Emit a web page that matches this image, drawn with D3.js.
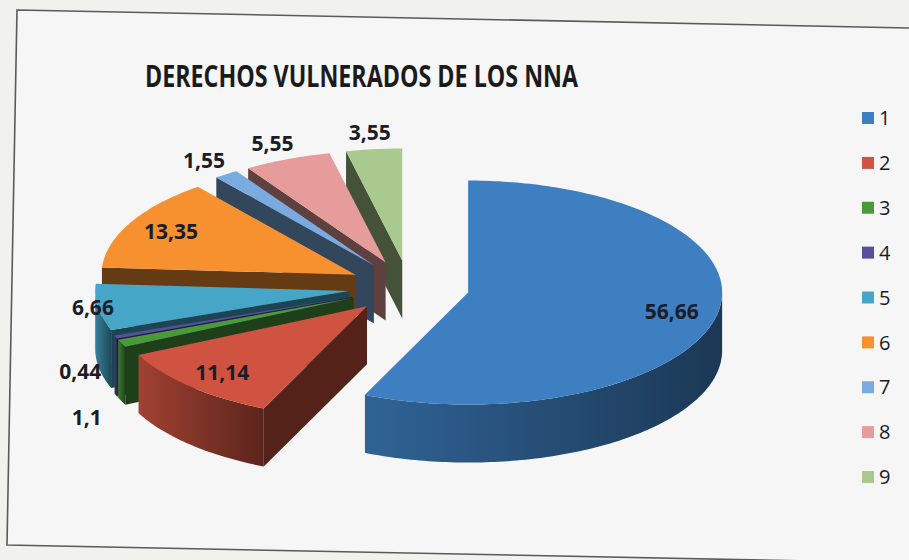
<!DOCTYPE html>
<html>
<head>
<meta charset="utf-8">
<script src="https://cdn.jsdelivr.net/npm/d3@7"></script>
<style>
  body { margin: 0; background: #f1f1f0; }
  svg { display: block; }
</style>
</head>
<body>
<svg id="chart" width="909" height="560"></svg>
<script>
// chart data
const title = "DERECHOS VULNERADOS DE LOS NNA";
const categories = ["1", "2", "3", "4", "5", "6", "7", "8", "9"];
const values = [56.66, 11.14, 1.1, 0.44, 6.66, 13.35, 1.55, 5.55, 3.55];
const colors = ["#3d7fc1", "#cf5340", "#4a9a3c", "#55509a", "#45a6c8",
                "#f7902f", "#7aaae0", "#e59c9a", "#a9c98e"];

/**
 * layout of the 3d pie
 */
const pie3d = {
    cx: 409, cy: 287,   // centre of the (un-exploded) top face
    rx: 254, ry: 112,   // radii of the top ellipse
    depth: 58,          // thickness of the slab
    explode: 0.238,     // offset of every slice, as a fraction of the radius
    step: Math.PI / 180
};

// decimal comma, as in the original
const fmt = d3.formatLocale({decimal: ",", thousands: ".", grouping: [3], currency: ["", ""]})
    .format("~g");

const svg = d3.select("#chart");
const W = +svg.attr("width"), H = +svg.attr("height");

// paper background and the (slightly skewed) chart frame
svg.append("rect").attr("width", W).attr("height", H).attr("fill", "#f1f1f0");
svg.append("path")
    .attr("d", "M17,10 L909,28 L909,563 L7,545 Z")
    .attr("fill", "#f6f6f7");
svg.append("path")
    .attr("d", "M909,28 L17,10 L7,545 L909,563")
    .attr("fill", "none")
    .attr("stroke", "#5a5a5a")
    .attr("stroke-width", 1.6);

svg.append("text")
    .attr("x", 145).attr("y", 87)
    .attr("textLength", 433)
    .attr("lengthAdjust", "spacingAndGlyphs")
    .attr("font-family", "'Open Sans', 'Liberation Sans', sans-serif")
    .attr("font-weight", 700)
    .attr("font-size", 31)
    .attr("fill", "#1b1b1b")
    .text(title);

const data = categories.map((c, i) => ({name: c, value: values[i], color: colors[i]}));
const arcs = d3.pie().sort(null).value(d => d.value)(data);

// point on the ellipse of radius factor k, around (ox, oy)
function pt(ox, oy, a, k = 1){
    return [ox + k * pie3d.rx * Math.sin(a), oy - k * pie3d.ry * Math.cos(a)];
}
function rimPoints(ox, oy, a0, a1){
    let pts = [];
    const n = Math.max(2, Math.ceil((a1 - a0) / pie3d.step));
    for(let i = 0; i <= n; i++){
        pts.push(pt(ox, oy, a0 + (a1 - a0) * i / n));
    }
    return pts;
}
const line = d3.line();
const defs = svg.append("defs");

// centre of each exploded slice
arcs.forEach(function(d, i){
    d.mid = (d.startAngle + d.endAngle) / 2;
    const off = pt(0, 0, d.mid, pie3d.explode);
    d.ox = pie3d.cx + off[0];
    d.oy = pie3d.cy + off[1];
    d.index = i;
});

// back slices first
const order = arcs.slice().sort((a, b) => a.oy - b.oy);
const pieGroup = svg.append("g").attr("id", "pieGroup");

order.forEach(function(d){
    const g = pieGroup.append("g");
    const base = d3.color(d.data.color);
    const h = pie3d.depth;
    const gradId = "wall" + d.index;
    const grad = defs.append("linearGradient").attr("id", gradId)
        .attr("x1", 0).attr("x2", 1).attr("y1", 0).attr("y2", 0);
    grad.append("stop").attr("offset", 0).attr("stop-color", base.darker(0.7));
    grad.append("stop").attr("offset", 1).attr("stop-color", base.darker(2.3));

    // radial walls that face the viewer
    const walls = [];
    if(Math.sin(d.startAngle) < -1e-6) walls.push(d.startAngle);
    if(Math.sin(d.endAngle) > 1e-6) walls.push(d.endAngle);
    walls.forEach(function(a){
        const p = pt(d.ox, d.oy, a);
        g.append("path")
            .attr("d", line([[d.ox, d.oy], p, [p[0], p[1] + h], [d.ox, d.oy + h]]) + "Z")
            .attr("fill", base.darker(2.5));
    });

    // outer wall (front half of the rim only)
    const a0 = Math.max(d.startAngle, Math.PI / 2);
    const a1 = Math.min(d.endAngle, 3 * Math.PI / 2);
    if(a1 > a0){
        const top = rimPoints(d.ox, d.oy, a0, a1);
        const bottom = top.map(p => [p[0], p[1] + h]).reverse();
        g.append("path")
            .attr("d", line(top.concat(bottom)) + "Z")
            .attr("fill", "url(#" + gradId + ")");
    }

    // top face
    g.append("path")
        .attr("d", line([[d.ox, d.oy]].concat(rimPoints(d.ox, d.oy, d.startAngle, d.endAngle))) + "Z")
        .attr("fill", base);
});

// data labels: inside for the wide slices, outside for the thin ones
const labels = arcs.map(function(d){
    const inside = d.data.value >= 6;
    const k = inside ? (d.data.value > 10 ? 0.82 : 1.02) : 1.15;
    const p = pt(d.ox, d.oy, d.mid, k);
    if(!inside && Math.cos(d.mid) < 0) p[1] += pie3d.depth / 2;
    return {text: fmt(d.data.value), x: p[0], y: p[1], inside: inside};
});
// push overlapping outside labels apart
const outside = labels.filter(l => !l.inside).sort((a, b) => a.y - b.y);
for(let i = 1; i < outside.length; i++){
    for(let j = 0; j < i; j++){
        const a = outside[j], b = outside[i];
        if(Math.abs(a.x - b.x) < 60 && b.y - a.y < 46){
            b.y = a.y + 46;
        }
    }
}
svg.append("g").attr("id", "labelGroup")
    .selectAll("text")
    .data(labels)
    .join("text")
    .attr("x", d => d.x)
    .attr("y", d => d.y)
    .attr("dy", "0.35em")
    .attr("text-anchor", "middle")
    .attr("font-family", "'Open Sans', 'Liberation Sans', sans-serif")
    .attr("font-weight", 700)
    .attr("font-size", 21)
    .attr("fill", "#1c1c28")
    .text(d => d.text);

// legend
const legendY = d3.scalePoint().domain(categories).range([118, 477]);
const legend = svg.append("g").attr("id", "legend")
    .selectAll("g")
    .data(data)
    .join("g")
    .attr("transform", d => "translate(862," + legendY(d.name) + ")");
legend.append("rect")
    .attr("x", 0).attr("y", -6)
    .attr("width", 12).attr("height", 12)
    .attr("fill", d => d.color);
legend.append("text")
    .attr("x", 17).attr("y", 0).attr("dy", "0.36em")
    .attr("font-family", "'Open Sans', 'Liberation Sans', sans-serif")
    .attr("font-size", 20)
    .attr("fill", "#1b1b1b")
    .text(d => d.name);
</script>
</body>
</html>
